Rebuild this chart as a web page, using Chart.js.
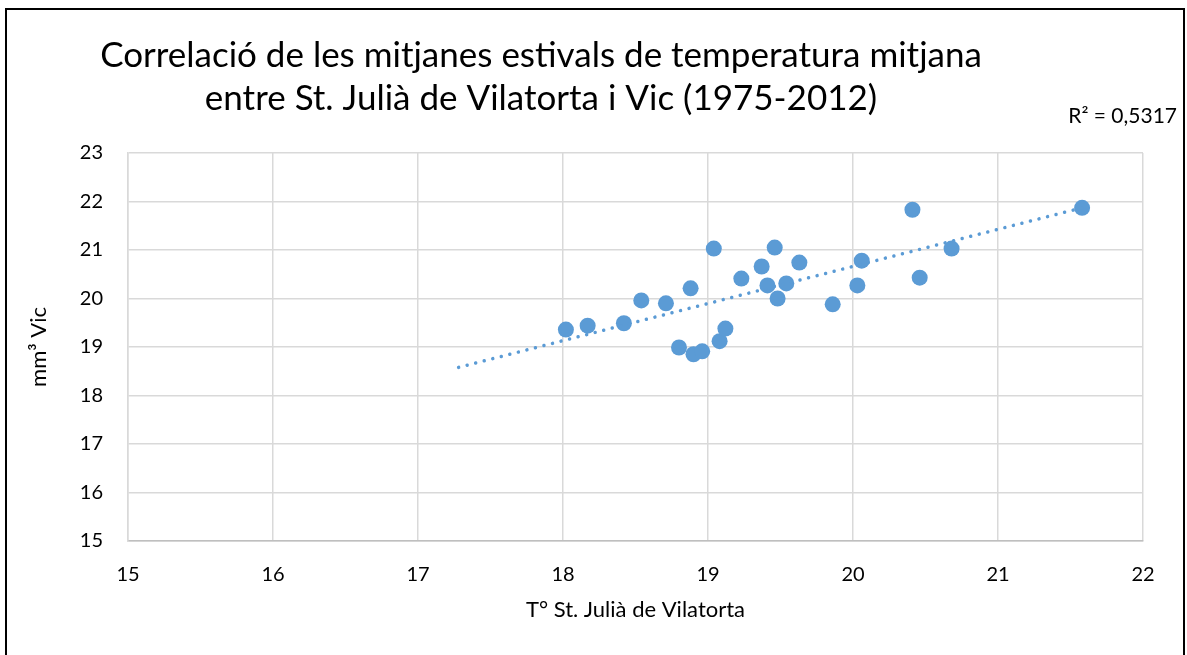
<!DOCTYPE html>
<html>
<head>
<meta charset="utf-8">
<script src="https://cdn.jsdelivr.net/npm/chart.js@4.4.0/dist/chart.umd.min.js"></script>
<style>
  body { margin: 0; background: #fff; }
  #frame {
    position: absolute; left: 5px; top: 8px; width: 1176px; height: 660px;
    border: 2px solid #000; border-bottom: none;
  }
  #myChart { position: absolute; left: 0; top: 0; }
</style>
</head>
<body>
<div id="frame"></div>
<canvas id="myChart" width="1187" height="655"></canvas>
<script>
// summer mean temperatures, St. Julià de Vilatorta vs Vic
const tempStJulia = [18.02, 18.17, 18.42, 18.54, 18.71, 18.88, 18.80, 18.90, 18.96, 19.04,
  19.08, 19.12, 19.23, 19.37, 19.41, 19.46, 19.48, 19.54, 19.63, 19.86,
  20.03, 20.06, 20.41, 20.46, 20.68, 21.58]
const tempVic = [19.36, 19.44, 19.49, 19.96, 19.90, 20.21, 18.99, 18.85, 18.91, 21.03,
  19.12, 19.38, 20.41, 20.66, 20.27, 21.05, 20.00, 20.31, 20.74, 19.88,
  20.27, 20.78, 21.83, 20.43, 21.03, 21.87]

// linear trend (start / end)
const trendX = [17.28, 21.58]
const trendY = [18.58, 21.87]
const rSquared = '0,5317'

const titleLines = [
  'Correlació de les mitjanes estivals de temperatura mitjana',
  'entre St. Julià de Vilatorta i Vic (1975-2012)'
]

const fontFamily = 'Lato, "Open Sans", sans-serif'
const blue = '#5b9bd5'

const textPlugin = {
  id: 'headerText',
  afterDraw(chart) {
    const ctx = chart.ctx
    ctx.save()
    ctx.fillStyle = '#000'
    ctx.textBaseline = 'middle'
    ctx.textAlign = 'center'
    ctx.font = '35px ' + fontFamily
    ctx.fillText(titleLines[0], 541, 56)
    ctx.fillText(titleLines[1], 541, 99)
    ctx.textAlign = 'right'
    ctx.font = '21px ' + fontFamily
    ctx.fillText('R² = ' + rSquared, 1177, 116)
    ctx.restore()
  }
}

const config = {
  type: 'scatter',
  data: {
    datasets: [
      {
        type: 'line',
        label: 'Lineal',
        data: trendX.map((x, i) => ({ x, y: trendY[i] })),
        borderColor: blue,
        borderWidth: 3.5,
        borderCapStyle: 'round',
        borderDash: [0.01, 8.8],
        pointRadius: 0,
        fill: false,
        order: 0
      },
      {
        label: 'Vic',
        data: tempStJulia.map((x, i) => ({ x, y: tempVic[i] })),
        backgroundColor: blue,
        borderColor: blue,
        borderWidth: 0,
        pointRadius: 8,
        order: 1
      }
    ]
  },
  options: {
    responsive: false,
    animation: false,
    layout: {
      padding: { top: 153, right: 44, bottom: 14, left: 0 }
    },
    plugins: {
      legend: { display: false },
      tooltip: { enabled: false }
    },
    scales: {
      x: {
        type: 'linear',
        min: 15,
        max: 22,
        afterFit: scale => { scale.height = 100 },
        ticks: {
          stepSize: 1,
          padding: 22,
          color: '#000',
          font: { family: fontFamily, size: 20 }
        },
        grid: { color: '#d9d9d9', lineWidth: 1.5, drawTicks: false },
        border: { color: '#bfbfbf', width: 1.5 },
        title: {
          display: true,
          text: 'T° St. Julià de Vilatorta',
          color: '#000',
          font: { family: fontFamily, size: 22 },
          padding: { top: 0, bottom: 18 }
        }
      },
      y: {
        min: 15,
        max: 23,
        afterFit: scale => { scale.width = 128 },
        ticks: {
          stepSize: 1,
          padding: 25,
          color: '#000',
          font: { family: fontFamily, size: 20 }
        },
        grid: { color: '#d9d9d9', lineWidth: 1.5, drawTicks: false },
        border: { color: '#d9d9d9', width: 1.5 },
        title: {
          display: true,
          text: 'mm³ Vic',
          color: '#000',
          font: { family: fontFamily, size: 22 },
          padding: { top: 26, bottom: 0 }
        }
      }
    }
  },
  plugins: [textPlugin]
}

const myChart = new Chart(document.getElementById('myChart'), config)
</script>
</body>
</html>
